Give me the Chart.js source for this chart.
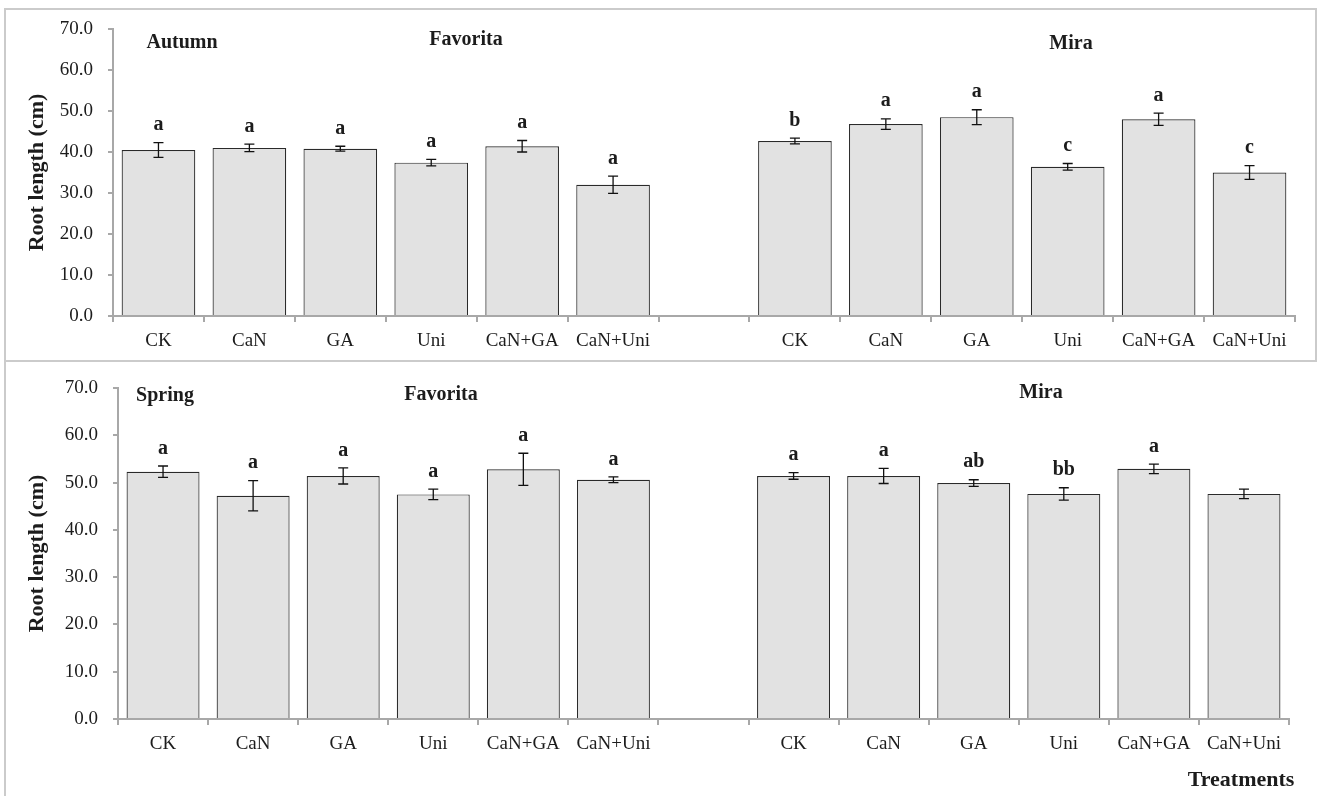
<!DOCTYPE html>
<html><head><meta charset="utf-8">
<script src="https://cdn.jsdelivr.net/npm/chart.js@4.4.1/dist/chart.umd.min.js"></script>
<style>
html,body{margin:0;padding:0;background:#fff;width:1317px;height:796px;overflow:hidden;}
.ln{position:absolute;background:#cbcbcb;}
.wrap{position:absolute;left:0;width:1317px;}
</style></head><body>
<div class="ln" style="left:4px;top:8px;width:1313px;height:2px"></div>
<div class="ln" style="left:1315px;top:8px;width:2px;height:354px"></div>
<div class="ln" style="left:4px;top:360px;width:1313px;height:2px"></div>
<div class="ln" style="left:4px;top:8px;width:2px;height:788px"></div>
<div class="wrap" style="top:0;height:361px"><canvas id="c1" width="1317" height="361"></canvas></div>
<div class="wrap" style="top:361px;height:435px"><canvas id="c2" width="1317" height="435"></canvas></div>
<script>
// ---- data ----
const treatments = ['CK', 'CaN', 'GA', 'Uni', 'CaN+GA', 'CaN+Uni'];
const yTickValues = [0, 10, 20, 30, 40, 50, 60, 70];

const autumnFavorita    = [40.5, 41.0, 40.8, 37.4, 41.4, 32.0];
const autumnFavoritaErr = [1.8, 0.9, 0.6, 0.8, 1.4, 2.1];
const autumnFavoritaSig = ['a', 'a', 'a', 'a', 'a', 'a'];
const autumnMira        = [42.7, 46.8, 48.5, 36.4, 48.0, 35.0];
const autumnMiraErr     = [0.7, 1.3, 1.8, 0.8, 1.5, 1.7];
const autumnMiraSig     = ['b', 'a', 'a', 'c', 'a', 'c'];

const springFavorita    = [52.3, 47.2, 51.4, 47.5, 52.8, 50.6];
const springFavoritaErr = [1.2, 3.2, 1.7, 1.1, 3.4, 0.6];
const springFavoritaSig = ['a', 'a', 'a', 'a', 'a', 'a'];
const springMira        = [51.4, 51.4, 49.9, 47.6, 52.9, 47.6];
const springMiraErr     = [0.7, 1.6, 0.7, 1.3, 1.0, 1.0];
const springMiraSig     = ['a', 'a', 'ab', 'bb', 'a', ''];

// ---- helpers ----
const labels = [...treatments, '', ...treatments];
const join = (a, b) => [...a, null, ...b];
const SERIF = '"Liberation Serif", "Times New Roman", serif';
const AXIS = '#a8a8a8';
const TXT = '#1c1c1c';

const annot = {
  id: 'annot',
  afterDatasetsDraw(chart, args, opts) {
    const ctx = chart.ctx;
    const meta = chart.getDatasetMeta(0);
    const ys = chart.scales.y;
    const data = chart.data.datasets[0].data;
    ctx.save();
    ctx.strokeStyle = '#111';
    ctx.lineWidth = 1.3;
    ctx.fillStyle = TXT;
    ctx.textAlign = 'center';
    ctx.textBaseline = 'middle';
    ctx.font = 'bold 20px ' + SERIF;
    opts.err.forEach((e, i) => {
      if (e == null || data[i] == null) return;
      const x = meta.data[i].x;
      const yt = ys.getPixelForValue(data[i] + e);
      const yb = ys.getPixelForValue(data[i] - e);
      ctx.beginPath();
      ctx.moveTo(x, yt); ctx.lineTo(x, yb);
      ctx.moveTo(x - 5, yt); ctx.lineTo(x + 5, yt);
      ctx.moveTo(x - 5, yb); ctx.lineTo(x + 5, yb);
      ctx.stroke();
      const s = opts.sig[i];
      if (s) ctx.fillText(s, x, yt - 17.5);
    });
    (opts.texts || []).forEach(t => {
      ctx.font = 'bold ' + t.size + 'px ' + SERIF;
      ctx.fillText(t.text, t.x, t.y);
    });
    ctx.restore();
  }
};

function makeChart(id, values, errs, sigs, geo, texts) {
  return new Chart(document.getElementById(id), {
    type: 'bar',
    data: {
      labels: labels,
      datasets: [{
        data: values,
        backgroundColor: '#e2e2e2',
        borderColor: '#2a2a2a',
        borderWidth: 1.2,
        barPercentage: 0.81,
        categoryPercentage: 1.0
      }]
    },
    plugins: [annot],
    options: {
      responsive: false,
      devicePixelRatio: 1,
      animation: false,
      layout: { padding: { left: 0, right: geo.right, top: geo.top, bottom: 0 } },
      plugins: {
        legend: { display: false },
        tooltip: { enabled: false },
        annot: { err: errs, sig: sigs, texts: texts }
      },
      scales: {
        x: {
          afterFit(s) { s.height = geo.xh; },
          ticks: { autoSkip: false, maxRotation: 0, padding: 8, color: TXT,
                   font: { family: SERIF, size: 19 } },
          grid: { offset: true, drawOnChartArea: false, drawTicks: true, tickLength: 6,
                  color: AXIS, lineWidth: 2 },
          border: { color: AXIS, width: 2 }
        },
        y: {
          min: 0, max: 70,
          afterFit(s) { s.width = geo.yw; },
          afterBuildTicks(s) { s.ticks = yTickValues.map(v => ({ value: v })); },
          ticks: { callback: v => Number(v).toFixed(1), padding: 15, color: TXT,
                   font: { family: SERIF, size: 19 } },
          grid: { drawOnChartArea: false, drawTicks: true, tickLength: 5,
                  color: AXIS, lineWidth: 2 },
          border: { color: AXIS, width: 2 },
          title: { display: true, text: 'Root length (cm)', color: TXT,
                   font: { family: SERIF, size: 22, weight: 'bold' },
                   padding: { top: 24, bottom: 0 } }
        }
      }
    }
  });
}

makeChart('c1', join(autumnFavorita, autumnMira),
  join(autumnFavoritaErr, autumnMiraErr), join(autumnFavoritaSig, autumnMiraSig),
  { right: 22, top: 29, xh: 45, yw: 113 },
  [ { text: 'Autumn', x: 182, y: 43, size: 20 },
    { text: 'Favorita', x: 466, y: 40, size: 20 },
    { text: 'Mira', x: 1071, y: 44, size: 20 } ]);

makeChart('c2', join(springFavorita, springMira),
  join(springFavoritaErr, springMiraErr), join(springFavoritaSig, springMiraSig),
  { right: 28, top: 27, xh: 77, yw: 118 },
  [ { text: 'Spring', x: 165, y: 35, size: 20 },
    { text: 'Favorita', x: 441, y: 34, size: 20 },
    { text: 'Mira', x: 1041, y: 32, size: 20 },
    { text: 'Treatments', x: 1241, y: 419, size: 22 } ]);
</script>
</body></html>
